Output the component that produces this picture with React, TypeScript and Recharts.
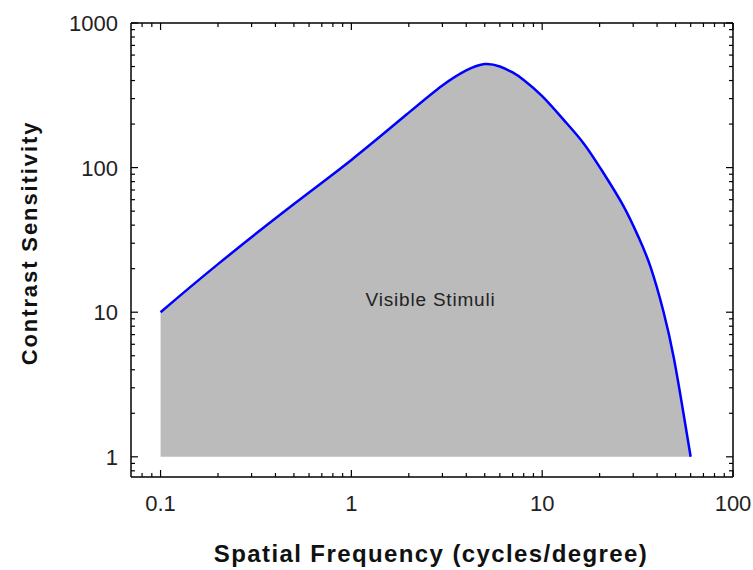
import { Area, AreaChart, ReferenceDot, ReferenceLine, XAxis, YAxis } from "recharts";

// spatial frequency (cycles/degree) and contrast sensitivity
const frequency = [0.1, 0.2, 0.5, 1, 2, 3, 4, 5, 6, 7, 8, 10, 13, 16.5, 20.4, 26.5, 32, 37, 43.3, 49, 55, 60];
const sensitivity = [10, 21.5, 56, 113, 240, 370, 470, 520, 500, 455, 404, 312, 213, 147, 97, 55, 33, 20.5, 10, 4.8, 2, 1];

const xTicks = [
  0.08, 0.09, 0.1, 0.2, 0.3, 0.4, 0.5, 0.6, 0.7, 0.8, 0.9,
  1, 2, 3, 4, 5, 6, 7, 8, 9,
  10, 20, 30, 40, 50, 60, 70, 80, 90, 100,
];
const yTicks = [
  0.8, 0.9, 1, 2, 3, 4, 5, 6, 7, 8, 9,
  10, 20, 30, 40, 50, 60, 70, 80, 90,
  100, 200, 300, 400, 500, 600, 700, 800, 900, 1000,
];

const data = frequency.map((f, i) => ({ f, s: sensitivity[i] }));

const FONT = "'Liberation Sans', Arial, sans-serif";

// plot frame edges
const LEFT = 131;
const RIGHT = 733;
const TOP = 23;
const BOTTOM = 477;

const isMajor = (v: number) =>
  Math.abs(Math.log10(v) - Math.round(Math.log10(v))) < 1e-6;

// ticks point inward, mirrored on the opposite side of the frame
const XTick = (props: any) => {
  const { x, payload } = props;
  const v = payload.value;
  const major = isMajor(v);
  const len = major ? 7 : 4;
  return (
    <g>
      <line x1={x} y1={BOTTOM} x2={x} y2={BOTTOM - len} stroke="#000" strokeWidth={1.2} />
      <line x1={x} y1={TOP} x2={x} y2={TOP + len} stroke="#000" strokeWidth={1.2} />
      {major && (
        <text x={x} y={BOTTOM + 34} textAnchor="middle" fontSize={22} fontFamily={FONT} fill="#222">
          {String(v)}
        </text>
      )}
    </g>
  );
};

const YTick = (props: any) => {
  const { y, payload } = props;
  const v = payload.value;
  const major = isMajor(v);
  const len = major ? 7 : 4;
  return (
    <g>
      <line x1={LEFT} y1={y} x2={LEFT + len} y2={y} stroke="#000" strokeWidth={1.2} />
      <line x1={RIGHT} y1={y} x2={RIGHT - len} y2={y} stroke="#000" strokeWidth={1.2} />
      {major && (
        <text x={LEFT - 13} y={y + 8} textAnchor="end" fontSize={22} fontFamily={FONT} fill="#222">
          {String(v)}
        </text>
      )}
    </g>
  );
};

const App = () => {
  return (
    <div style={{ position: "absolute", left: 0, top: 0, background: "#fff" }}>
      <AreaChart
        width={753}
        height={570}
        data={data}
        margin={{ top: TOP, right: 753 - RIGHT, bottom: 0, left: 0 }}
      >
        <XAxis
          dataKey="f"
          type="number"
          scale="log"
          domain={[0.07, 100]}
          allowDataOverflow
          ticks={xTicks}
          interval={0}
          height={570 - BOTTOM}
          tickLine={false}
          tick={<XTick />}
          axisLine={{ stroke: "#000", strokeWidth: 1.5 }}
          label={{
            content: () => (
              <text
                x={431}
                y={562}
                textAnchor="middle"
                fontSize={24}
                fontWeight="bold"
                letterSpacing={1.4}
                fontFamily={FONT}
                fill="#111"
              >
                Spatial Frequency (cycles/degree)
              </text>
            ),
          }}
        />
        <YAxis
          type="number"
          scale="log"
          domain={[0.725, 1000]}
          allowDataOverflow
          ticks={yTicks}
          interval={0}
          width={LEFT}
          tickLine={false}
          tick={<YTick />}
          axisLine={{ stroke: "#000", strokeWidth: 1.5 }}
          label={{
            content: () => (
              <text
                x={37}
                y={243}
                transform="rotate(-90 37 243)"
                textAnchor="middle"
                fontSize={22}
                fontWeight="bold"
                letterSpacing={1.9}
                fontFamily={FONT}
                fill="#111"
              >
                Contrast Sensitivity
              </text>
            ),
          }}
        />
        <ReferenceLine x={100} stroke="#000" strokeWidth={1.5} />
        <ReferenceLine y={1000} stroke="#000" strokeWidth={1.5} />
        <Area
          type="natural"
          dataKey="s"
          baseValue={1}
          stroke="#0000ff"
          strokeWidth={2.5}
          fill="#bbbbbb"
          fillOpacity={1}
          dot={false}
          activeDot={false}
          isAnimationActive={false}
        />
        <ReferenceDot
          x={2.6}
          y={12.3}
          r={0}
          fill="none"
          stroke="none"
          label={{
            value: "Visible Stimuli",
            position: "center",
            fontSize: 19,
            fontFamily: FONT,
            fill: "#222",
            letterSpacing: 0.8,
          }}
        />
      </AreaChart>
    </div>
  );
};

export default App;
